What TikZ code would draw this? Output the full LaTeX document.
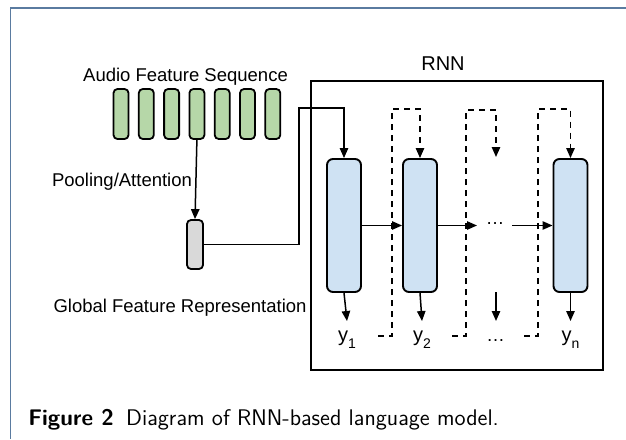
\documentclass[tikz,border=0pt]{standalone}
\usepackage{fontspec}
\setmainfont{Liberation Sans}
\usetikzlibrary{arrows.meta,calc}

\definecolor{featgreen}{HTML}{B6D7A8}
\definecolor{hidblue}{HTML}{CFE2F3}
\definecolor{globgray}{HTML}{D9D9D9}
\definecolor{framecol}{HTML}{5A7BA0}

\newcommand{\outsub}[1]{\raisebox{-3.5pt}{\fontsize{7}{8}\selectfont #1}}

\begin{document}
\begin{tikzpicture}[x=0.5pt,y=-0.5pt,
    lbl/.style={font=\fontsize{9.25}{11}\selectfont, inner sep=0pt},
    outlbl/.style={font=\fontsize{10}{12}\selectfont, inner xsep=0pt, inner ysep=4.5pt},
    featbar/.style={draw=black, line width=0.9pt, fill=featgreen, rounded corners=2pt,
      minimum width=7.5pt, minimum height=25pt, inner sep=0pt},
    hidbox/.style={draw=black, line width=0.95pt, fill=hidblue, rounded corners=3pt,
      minimum width=17pt, minimum height=66.5pt, inner sep=0pt},
    conn/.style={line width=0.75pt, -{Triangle[length=5pt,width=4.2pt]}},
    dconn/.style={conn, dash pattern=on 3pt off 2.5pt}]
    \useasboundingbox (0,0) rectangle (626,439);
    \draw[framecol, line width=1pt] (10,7.5) -- (626,7.5);
    \draw[framecol, line width=0.5pt] (10,7) -- (10,439);

    % audio features
    \node[lbl, anchor=base] (seqlbl) at (185.5,81) {Audio Feature Sequence};
    \foreach \i in {1,...,7}
        \node[featbar] (f\i) at ({121+25.3*(\i-1)},114) {};
    \node[lbl, anchor=base] (poollbl) at (122,186) {Pooling/Attention};
    \node[featbar, fill=globgray, minimum width=8pt, minimum height=24.5pt] (glob) at (195,244.5) {};
    \node[lbl, anchor=base] (globlbl) at (180,312.5) {Global Feature Representation};
    \draw[conn] (f4.south) -- (glob.north);

    % RNN
    \node[draw, line width=0.9pt, minimum width=146pt, minimum height=144.5pt, inner sep=0pt] (rnn) at (457,225.5) {};
    \node[font=\fontsize{10}{12}\selectfont, anchor=base, inner sep=0pt] (rnnlbl) at (443,70) {RNN};
    \node[hidbox] (h1) at (344,225.5) {};
    \node[hidbox] (h2) at (420,225.5) {};
    \node[hidbox] (hn) at (570.5,225.5) {};
    \draw[conn] (glob.east) -- ++(95,0) |- ($(h1.north)+(0,-50)$) -- (h1.north);

    \coordinate (mid1) at (477,225.5);
    \coordinate (mid2) at (512,225.5);
    \draw[conn] (h1.east) -- (h2.west);
    \draw[conn] (h2.east) -- (mid1);
    \node[lbl] (hdots) at (495,224) {…};
    \draw[conn] (mid2) -- (hn.west);

    % outputs
    \node[outlbl, anchor=base] (y1) at (347,341) {y\outsub{1}};
    \node[outlbl, anchor=base] (y2) at (422,341) {y\outsub{2}};
    \node[outlbl, anchor=base] (yn) at (570.5,341) {y\outsub{n}};
    \node[lbl, anchor=base] (ydots) at (495.5,341) {…};
    \coordinate (mo1) at (496,292);
    \coordinate (mo2) at (496,321);
    \draw[conn] (h1.south) -- (y1.north);
    \draw[conn] (h2.south) -- (y2.north);
    \draw[conn] (mo1) -- (mo2);
    \draw[conn] (hn.south) -- (yn.north);

    % recurrent links
    \coordinate (d2) at (378,336);
    \coordinate (d3) at (452,336);
    \coordinate (dn) at (524,336);
    \coordinate (d3end) at (496,157);
    \draw[dconn] (d2) -- ++(14,0) |- ($(h2.north)+(0,-49)$) -- (h2.north);
    \draw[dconn] (d3) -- ++(14,0) |- ($(d3end)+(0,-47)$) -- (d3end);
    \draw[dconn] (dn) -- ++(14,0) |- ($(hn.north)+(0,-49)$) -- (hn.north);

    \node[font=\sffamily\fontsize{11.3}{13}\selectfont, anchor=base west, inner sep=0pt] (caption) at (28,425)
        {\textbf{Figure 2}\hspace{0.55em}Diagram of RNN-based language model.};
\end{tikzpicture}
\end{document}
